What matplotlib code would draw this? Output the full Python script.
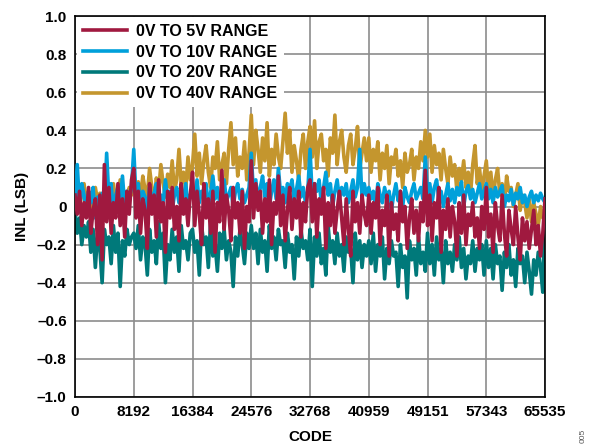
import matplotlib.pyplot as plt
import numpy as np

plt.rcParams['font.family'] = ['Liberation Sans', 'DejaVu Sans']
plt.rcParams['font.weight'] = 'bold'

# INL (LSB), 26 samples per 8192-code segment + final code
inl_40v = [0.04, 0.10, 0.00, 0.06, 0.12, 0.02, 0.08, -0.02, 0.05, 0.10, 0.03, 0.07, -0.03, 0.04, 0.09, 0.01, 0.06, 0.12, 0.02, 0.05, 0.14, 0.03, 0.08, 0.00, 0.10, 0.06,
           0.18, 0.08, 0.13, 0.04, 0.16, 0.09, 0.06, 0.20, 0.10, 0.03, 0.15, 0.08, 0.22, 0.12, 0.05, 0.17, 0.10, 0.24, 0.08, 0.14, 0.30, 0.12, 0.18, 0.09, 0.26, 0.14,
           0.22, 0.38, 0.16, 0.28, 0.12, 0.24, 0.32, 0.18, 0.10, 0.26, 0.20, 0.34, 0.14, 0.22, 0.28, 0.12, 0.30, 0.44, 0.22, 0.36, 0.16, 0.26, 0.20, 0.34, 0.14, 0.28,
           0.48, 0.22, 0.40, 0.30, 0.18, 0.36, 0.24, 0.44, 0.16, 0.30, 0.22, 0.38, 0.26, 0.20, 0.34, 0.49, 0.28, 0.40, 0.18, 0.32, 0.24, 0.14, 0.30, 0.38, 0.20, 0.34,
           0.42, 0.26, 0.45, 0.20, 0.34, 0.38, 0.24, 0.30, 0.16, 0.36, 0.28, 0.48, 0.22, 0.34, 0.40, 0.26, 0.18, 0.32, 0.38, 0.22, 0.30, 0.42, 0.20, 0.28, 0.36, 0.24,
           0.36, 0.18, 0.30, 0.24, 0.34, 0.14, 0.28, 0.20, 0.32, 0.12, 0.26, 0.22, 0.30, 0.16, 0.24, 0.10, 0.28, 0.18, 0.22, 0.30, 0.14, 0.26, 0.20, 0.34, 0.24, 0.40,
           0.26, 0.38, 0.18, 0.32, 0.22, 0.28, 0.14, 0.30, 0.20, 0.12, 0.26, 0.16, 0.22, 0.08, 0.20, 0.14, 0.24, 0.10, 0.18, 0.06, 0.22, 0.32, 0.12, 0.20, 0.08, 0.16,
           0.24, 0.08, 0.18, 0.04, 0.14, 0.20, 0.06, 0.12, 0.02, 0.16, 0.08, 0.10, 0.00, 0.06, 0.12, -0.02, 0.06, 0.02, -0.06, 0.04, -0.08, 0.02, -0.04, -0.10, 0.00, -0.06,
           -0.02]

inl_10v = [0.04, 0.22, 0.00, 0.12, 0.06, -0.04, 0.08, 0.02, 0.10, -0.06, 0.05, 0.00, 0.07, -0.02, 0.28, 0.04, 0.12, -0.04, 0.06, 0.10, 0.02, 0.16, 0.00, 0.08, 0.04, 0.10,
           0.30, 0.04, 0.12, 0.00, 0.08, 0.05, -0.02, 0.10, 0.03, 0.07, 0.12, 0.00, 0.06, 0.02, 0.14, 0.04, 0.08, -0.02, 0.06, 0.10, 0.02, 0.08, 0.04, 0.12, 0.00, 0.06,
           0.10, 0.04, 0.14, 0.02, 0.08, 0.06, 0.12, 0.00, 0.07, 0.16, 0.04, 0.10, 0.02, 0.08, 0.14, 0.03, 0.06, 0.10, 0.00, 0.08, 0.12, 0.04, 0.09, 0.02, 0.06, 0.10,
           0.28, 0.06, 0.14, 0.02, 0.10, 0.16, 0.05, 0.12, 0.00, 0.08, 0.14, 0.04, 0.20, 0.06, 0.10, 0.02, 0.12, 0.08, 0.14, 0.03, 0.09, 0.16, 0.05, 0.10, 0.02, 0.08,
           0.30, 0.04, 0.12, 0.08, 0.14, 0.02, 0.10, 0.18, 0.06, 0.12, 0.00, 0.08, 0.14, 0.04, 0.10, 0.06, 0.12, 0.02, 0.08, 0.14, 0.05, 0.10, 0.30, 0.04, 0.12, 0.06,
           0.10, 0.04, 0.08, 0.00, 0.12, 0.06, 0.02, 0.10, 0.04, 0.08, -0.02, 0.06, 0.12, 0.03, 0.08, 0.00, 0.10, 0.05, 0.02, 0.08, 0.12, 0.04, 0.07, 0.10, 0.04, 0.26,
           0.06, 0.12, 0.02, 0.10, 0.14, 0.04, 0.08, 0.00, 0.06, 0.12, 0.03, 0.09, 0.02, 0.10, 0.06, 0.13, 0.00, 0.08, 0.11, 0.04, 0.09, 0.02, 0.07, 0.12, 0.04, 0.08,
           0.12, 0.04, 0.09, 0.02, 0.10, 0.05, 0.08, 0.11, 0.00, 0.06, 0.03, 0.09, 0.01, 0.07, 0.04, 0.10, 0.02, 0.06, 0.00, 0.05, 0.08, 0.02, 0.06, 0.03, 0.07, 0.04,
           0.02]

inl_5v = [0.06, -0.04, 0.08, -0.10, 0.02, -0.06, 0.10, -0.14, -0.02, 0.04, -0.20, 0.06, -0.28, 0.22, -0.08, 0.10, -0.14, 0.02, -0.06, 0.12, -0.10, 0.04, -0.16, 0.08, -0.04, 0.14,
          0.20, -0.06, 0.08, -0.14, 0.04, -0.02, -0.22, 0.12, -0.04, 0.06, -0.16, 0.14, -0.08, 0.02, -0.24, 0.08, -0.06, 0.10, -0.12, 0.00, -0.18, 0.12, -0.04, 0.04, -0.10, 0.06,
          0.18, -0.10, 0.08, -0.04, -0.20, 0.12, -0.06, 0.04, -0.14, 0.08, -0.24, 0.02, -0.08, 0.19, -0.12, 0.06, -0.02, -0.18, 0.10, -0.06, 0.02, -0.14, 0.08, -0.22, 0.00, -0.08,
          0.24, -0.06, 0.12, -0.02, 0.08, -0.14, 0.04, -0.08, 0.14, -0.20, 0.02, -0.04, 0.16, -0.10, 0.06, -0.18, -0.02, 0.10, -0.12, 0.04, -0.06, 0.08, -0.16, 0.02, -0.08, 0.10,
          0.14, -0.08, 0.12, -0.16, 0.04, -0.04, 0.10, -0.22, 0.02, -0.10, 0.06, -0.14, -0.02, 0.08, -0.06, -0.20, 0.04, -0.12, -0.26, 0.08, -0.08, 0.02, -0.14, 0.06, -0.04, -0.10,
          0.06, -0.14, 0.02, -0.06, 0.10, -0.20, -0.02, -0.10, 0.06, -0.26, 0.02, -0.12, -0.04, -0.18, 0.08, -0.08, 0.00, -0.22, -0.06, 0.04, -0.14, -0.02, -0.18, 0.02, -0.08, 0.19,
          -0.10, 0.06, -0.18, 0.02, -0.06, 0.10, -0.24, -0.02, -0.12, 0.04, -0.16, 0.00, -0.08, -0.26, 0.02, -0.14, 0.06, -0.20, -0.04, -0.10, 0.02, -0.16, -0.06, -0.22, 0.00, -0.12,
          0.10, -0.16, -0.04, -0.24, 0.02, -0.10, -0.18, 0.06, -0.14, -0.26, -0.02, -0.12, -0.20, 0.00, -0.16, -0.28, -0.06, -0.18, -0.08, -0.22, -0.12, -0.02, -0.20, -0.10, -0.26, -0.14,
          0.04]

inl_20v = [-0.02, -0.14, -0.06, -0.20, -0.10, -0.16, -0.08, -0.24, -0.12, -0.32, -0.14, -0.22, -0.40, -0.12, -0.20, -0.16, -0.30, -0.10, -0.24, -0.14, -0.42, -0.18, -0.26, -0.12, -0.20, -0.16,
           -0.14, -0.22, -0.10, -0.28, -0.16, -0.20, -0.36, -0.12, -0.24, -0.18, -0.30, -0.08, -0.22, -0.14, -0.40, -0.20, -0.28, -0.12, -0.24, -0.16, -0.34, -0.10, -0.22, -0.18, -0.28, -0.14,
           -0.12, -0.24, -0.18, -0.36, -0.10, -0.20, -0.16, -0.32, -0.08, -0.26, -0.20, -0.34, -0.14, -0.22, -0.12, -0.28, -0.18, -0.24, -0.42, -0.16, -0.26, -0.12, -0.20, -0.30, -0.14, -0.22,
           -0.10, -0.22, -0.14, -0.30, -0.12, -0.24, -0.18, -0.34, -0.10, -0.22, -0.16, -0.28, -0.12, -0.20, -0.18, -0.32, -0.14, -0.24, -0.20, -0.38, -0.16, -0.26, -0.12, -0.22, -0.18, -0.28,
           -0.12, -0.42, -0.16, -0.26, -0.14, -0.30, -0.22, -0.36, -0.10, -0.24, -0.18, -0.30, -0.14, -0.26, -0.20, -0.34, -0.16, -0.24, -0.22, -0.40, -0.14, -0.28, -0.18, -0.32, -0.20, -0.26,
           -0.18, -0.30, -0.14, -0.34, -0.20, -0.26, -0.16, -0.38, -0.22, -0.30, -0.18, -0.26, -0.24, -0.42, -0.20, -0.32, -0.26, -0.48, -0.18, -0.28, -0.22, -0.36, -0.16, -0.30, -0.24, -0.34,
           -0.14, -0.30, -0.20, -0.36, -0.16, -0.28, -0.22, -0.40, -0.18, -0.30, -0.24, -0.34, -0.20, -0.28, -0.16, -0.32, -0.22, -0.38, -0.26, -0.30, -0.18, -0.34, -0.22, -0.28, -0.20, -0.36,
           -0.18, -0.32, -0.22, -0.38, -0.20, -0.30, -0.26, -0.44, -0.24, -0.32, -0.20, -0.36, -0.28, -0.42, -0.22, -0.30, -0.26, -0.40, -0.24, -0.34, -0.46, -0.28, -0.36, -0.24, -0.32, -0.45,
           0.02]

series_names = ['0V TO 5V RANGE', '0V TO 10V RANGE', '0V TO 20V RANGE', '0V TO 40V RANGE']
x_ticks = [0, 8192, 16384, 24576, 32768, 40959, 49151, 57343, 65535]
y_ticks = [1.0, 0.8, 0.6, 0.4, 0.2, 0, -0.2, -0.4, -0.6, -0.8, -1.0]
y_labels = ['1.0', '0.8', '0.6', '0.4', '0.2', '0', '\u20130.2', '\u20130.4', '\u20130.6', '\u20130.8', '\u20131.0']


def codes_for(vals):
    # samples are evenly spread over the full code range
    return np.linspace(0, 65535, len(vals))


fig = plt.figure(figsize=(5.92, 4.47), dpi=100)
ax = fig.add_axes([0.1267, 0.112, 0.794, 0.852])

lw = 2.6
l20, = ax.plot(codes_for(inl_20v), inl_20v, color='#00797a', linewidth=lw, zorder=2)
l40, = ax.plot(codes_for(inl_40v), inl_40v, color='#c4962e', linewidth=lw, zorder=3)
l10, = ax.plot(codes_for(inl_10v), inl_10v, color='#00a0da', linewidth=lw, zorder=4)
l5, = ax.plot(codes_for(inl_5v), inl_5v, color='#a0193f', linewidth=lw, zorder=5)

ax.set_xlim(0, 65535)
ax.set_ylim(-1.0, 1.0)
ax.set_xticks(x_ticks)
ax.set_xticklabels([str(t) for t in x_ticks])
ax.set_yticks(y_ticks)
ax.set_yticklabels(y_labels)
ax.tick_params(length=0, labelsize=11, pad=6)
for lbl in ax.get_xticklabels() + ax.get_yticklabels():
    lbl.set_fontweight('bold')
ax.grid(True, color='#8c8c8c', linewidth=1.2)
ax.set_axisbelow(True)
for s in ax.spines.values():
    s.set_linewidth(1.2)

ax.set_xlabel('CODE', fontsize=11, fontweight='bold', labelpad=8)
ax.set_ylabel('INL (LSB)', fontsize=11, fontweight='bold', labelpad=6)

leg = ax.legend([l5, l10, l20, l40], series_names,
                loc='upper left', bbox_to_anchor=(-0.006, 1.009), frameon=True, framealpha=1,
                edgecolor='none', facecolor='white', fancybox=False,
                prop={'size': 11.5, 'weight': 'bold'}, handlelength=2.75,
                labelspacing=0.36, borderpad=0.4, handletextpad=0.55, borderaxespad=0.3)
leg.set_zorder(10)
for h in leg.get_lines():
    h.set_linewidth(2.6)

fig.text(0.985, 0.01, '005', rotation=90, fontsize=6, color='#555555',
         fontweight='normal', ha='center', va='bottom')

fig.savefig('out.png', dpi=100)
